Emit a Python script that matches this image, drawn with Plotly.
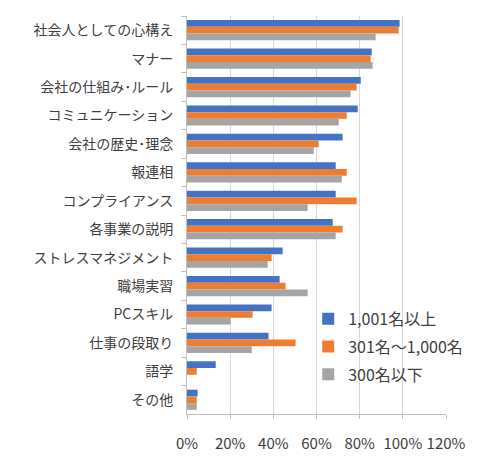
import plotly.graph_objects as go

categories = ["社会人としての心構え", "マナー", "会社の仕組み･ルール", "コミュニケーション",
              "会社の歴史･理念", "報連相", "コンプライアンス", "各事業の説明",
              "ストレスマネジメント", "職場実習", "PCスキル", "仕事の段取り", "語学", "その他"]

large = [98.5, 85.6, 80.5, 79.1, 72.1, 68.9, 68.9, 67.5, 44.3, 42.9, 39.2, 37.8, 13.3, 4.9]
mid = [98.1, 85.1, 78.6, 74.0, 61.0, 74.0, 78.6, 72.1, 39.2, 45.7, 30.4, 50.3, 4.5, 4.5]
small = [87.4, 86.0, 75.8, 70.3, 58.7, 71.7, 55.9, 68.9, 37.4, 55.9, 20.2, 30.0, 0, 4.5]

series = [("1,001名以上", large, "#4472c4"),
          ("301名～1,000名", mid, "#ed7d31"),
          ("300名以下", small, "#a5a5a5")]

fig = go.Figure()
for name, vals, color in series:
    fig.add_trace(go.Bar(y=categories, x=vals, name=name, orientation="h",
                         legendgroup=name,
                         marker=dict(color=color, line_width=0)))

font = "Noto Sans CJK JP"
# page body has an 8px margin, so the figure is drawn 8px smaller with 8px less on left/top
fig.update_layout(
    width=491, height=464,
    barmode="group", bargap=0.29, bargroupgap=0,
    plot_bgcolor="white", paper_bgcolor="white",
    margin=dict(l=179, r=53, t=8, b=58),
    font=dict(family=font, size=14, color="#404040"),
    legend=dict(x=0.468, y=0.282, xanchor="left", yanchor="top",
                bgcolor="rgba(0,0,0,0)", font=dict(size=16, color="#404040"),
                tracegroupgap=4, itemwidth=30),
)
fig.update_xaxes(range=[0, 120], dtick=20, ticksuffix="%",
                 showgrid=True, gridcolor="#d9d9d9", gridwidth=1,
                 showline=True, linecolor="#bfbfbf", zeroline=False,
                 ticks="outside", ticklen=4, tickcolor="#bfbfbf",
                 ticklabelstandoff=12, tickfont=dict(size=15))
fig.update_yaxes(autorange="reversed", showline=True, linecolor="#bfbfbf",
                 ticks="outside", tickson="boundaries", ticklen=5, tickcolor="#bfbfbf",
                 ticklabelstandoff=10, tickfont=dict(size=14))

fig.write_html("out.html")
